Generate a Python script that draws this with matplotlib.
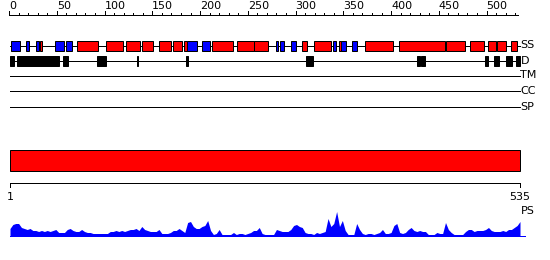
import numpy as np
import matplotlib.pyplot as plt

# sequence and feature data (residue numbers)
seq_len = 535
ruler_major = np.arange(0, 501, 50)
ruler_minor = np.arange(0, 531, 10)

helix = [(32, 35), (71, 93), (101, 119), (122, 137), (139, 151), (157, 170),
         (172, 181), (183, 186), (213, 235), (239, 256), (257, 271), (307, 312),
         (319, 337), (345, 348), (373, 402), (408, 456), (458, 477), (483, 497),
         (501, 510), (511, 520), (526, 532)]
strand = [(2, 11), (18, 21), (28, 31), (48, 58), (60, 66), (186, 197), (202, 210),
          (279, 282), (284, 288), (295, 300), (339, 342), (348, 353), (359, 364)]
disorder = [(1, 5), (8, 52), (57, 62), (92, 102), (134, 135), (185, 187),
            (311, 318), (427, 430), (431, 436), (498, 501), (508, 513),
            (520, 527), (531, 535)]
domains = [(1, 535)]
track_names = ['SS', 'D', 'TM', 'CC', 'SP']

ps_step = 3
ps_values = [7, 11, 12, 12, 8, 7, 6, 7, 5, 5,
             4, 5, 4, 5, 4, 5, 6, 3, 3, 3,
             6, 7, 5, 4, 4, 6, 4, 3, 3, 2,
             2, 2, 2, 2, 2, 4, 4, 5, 4, 5,
             4, 5, 6, 6, 7, 5, 9, 6, 5, 4,
             4, 4, 6, 2, 2, 2, 3, 5, 5, 7,
             5, 3, 13, 14, 9, 7, 7, 9, 10, 15,
             5, 1, 2, 6, 1, 1, 1, 1, 3, 1,
             2, 2, 1, 2, 3, 5, 5, 8, 2, 1,
             1, 1, 1, 6, 5, 4, 4, 4, 6, 10,
             11, 9, 8, 3, 2, 2, 1, 3, 2, 3,
             4, 17, 9, 12, 24, 9, 15, 5, 1, 1,
             1, 12, 6, 2, 1, 2, 2, 1, 2, 3,
             6, 2, 2, 3, 10, 12, 3, 2, 3, 6,
             8, 5, 4, 5, 4, 4, 1, 1, 1, 3,
             2, 2, 13, 6, 3, 1, 1, 1, 1, 4,
             6, 6, 4, 5, 5, 5, 6, 8, 5, 4,
             4, 4, 5, 4, 6, 6, 8, 10, 14]
ps_res = np.arange(1, seq_len + 1, ps_step)

RED = '#ff0000'
BLUE = '#0000ff'
LW = 0.72
FS = 8

fig = plt.figure(figsize=(5.5, 2.6), dpi=100)
ax = fig.add_axes([0, 0, 1, 1])
ax.set_axis_off()
px = 510 / (seq_len - 1)
ax.set_xlim(1 - 10 / px, 1 + 540 / px)
ax.set_ylim(260, 0)

# top ruler
ax.hlines(14.5, 0, 533, color='k', lw=LW, antialiased=False)
ax.vlines(ruler_minor, 12.5, 14.5, color='k', lw=LW, antialiased=False)
ax.vlines(ruler_major, 10.5, 14.5, color='k', lw=LW, antialiased=False)
for t in ruler_major:
    ax.text(t, 11, str(t), ha='left', va='bottom', fontsize=FS)

# feature tracks
track_y = [45.5, 60.5, 75.5, 91, 106.5]
for name, y in zip(track_names, track_y):
    ax.hlines(y, 1, seq_len - 0.5, color='k', lw=LW, antialiased=False, zorder=1)
    ax.text(seq_len + 0.5, y, name, ha='left', va='center', fontsize=FS)

def boxes(items, y, color):
    for s, e in items:
        ax.barh(y, e - s, left=s, height=10, color=color, edgecolor='k',
                linewidth=LW, zorder=2)

boxes(helix, track_y[0], RED)
boxes(strand, track_y[0], BLUE)
boxes(disorder, track_y[1], 'k')

# domain bar
for s, e in domains:
    ax.barh(160.5, e - s, left=s, height=21, color=RED, edgecolor='k',
            linewidth=LW, zorder=2)

# bottom ruler
ax.hlines(183, 1, seq_len, color='k', lw=LW, antialiased=False)
ax.vlines([1, seq_len], 183, 187, color='k', lw=LW, antialiased=False)
ax.text(1, 197, '1', ha='center', va='center', fontsize=FS)
ax.text(seq_len, 197, str(seq_len), ha='center', va='center', fontsize=FS)

# PS profile
base = 235.5
ax.fill_between(ps_res, base, base - np.array(ps_values), color=BLUE, lw=0)
ax.hlines(base, 1, 540, color=BLUE, lw=LW, antialiased=False)
ax.text(seq_len + 1, 211, 'PS', ha='left', va='center', fontsize=FS)

fig.savefig('out.png', dpi=100)
